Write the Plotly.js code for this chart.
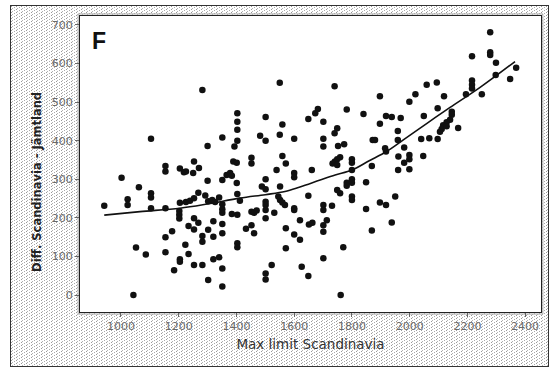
<!DOCTYPE html>
<html>
<head>
<meta charset="utf-8">
<script src="https://cdn.plot.ly/plotly-3.0.1.min.js"></script>
<style>
  html, body { margin:0; padding:0; background:#fff; }
  #wrap { position:relative; width:558px; height:369px; overflow:hidden; }
  #frame {
    position:absolute; left:10px; top:5px; width:537px; height:360px;
    border:1px solid #333;
    background-color:#fff;
    background-image:url("data:image/svg+xml,%3Csvg xmlns='http://www.w3.org/2000/svg' width='5' height='3'%3E%3Crect width='5' height='3' fill='%23ffffff'/%3E%3Crect x='0' y='0' width='1' height='1' fill='%23999'/%3E%3Crect x='3' y='1' width='1' height='1' fill='%23aaa'/%3E%3Crect x='1' y='2' width='1' height='1' fill='%23b4b4b4'/%3E%3C/svg%3E");
  }
  #chart { position:absolute; left:0; top:0; width:558px; height:369px; }
</style>
</head>
<body>
<div id="wrap">
  <div id="frame"></div>
  <div id="chart"></div>
</div>
<script>
// Scatter data: Max limit Scandinavia (x) vs Diff. Scandinavia - Jämtland (y)
const maxLimit = [
  1104,1282,1403,1403,1403,1403,1393,1351,1300,1501,1550,1559,1482,1501,1550,1600,1649,1673,1682,1701,1701,1701,
  2279,2279,2279,2216,2299,2369,2348,2298,2216,2216,2216,2195,2250,2094,2059,2119,2020,1999,1897,2097,
  2146,2146,2140,2128,2116,2111,2105,2128,2168,2049,2097,2068,2040,1959,1959,1897,1918,1938,1969,1840,1782,1740,
  1749,1740,1752,1773,1872,1880,1981,
  1253,1154,1154,1204,1218,1225,1250,1270,1002,1062,1104,1104,1023,1023,942,1104,1154,1204,1225,1239,1253,1268,
  1292,1302,1316,1326,1340,1300,1351,1366,1378,1384,1389,1401,1452,1452,1401,1403,1412,1351,1351,1351,1384,1403,
  1202,1202,1202,1253,1268,1320,1351,1351,1234,1253,1302,1177,1154,1282,1282,1320,1223,1234,1052,1086,1154,1204,
  1204,1184,1253,1282,1320,1340,1351,1302,1351,1043,1403,1403,1433,1452,1461,1452,1461,1470,1501,1501,1501,1501,
  1488,1501,1501,1551,1551,1559,1568,1545,1531,1600,1600,1539,1559,1571,1600,1600,1661,1649,1701,1701,1620,1651,
  1663,1701,1713,1701,1571,1600,1620,1571,1522,1501,1501,1626,1649,1701,
  1918,1915,1961,1999,1999,1981,2047,1960,1999,1869,1800,1800,1759,1749,1741,1733,1749,1800,1800,1800,1782,1782,
  1849,1749,1759,1800,1800,1731,1849,1897,1918,1950,1938,1869,1770,1761
];
const diffJamtland = [
  405,531,471,449,428,400,385,408,386,461,550,442,413,400,415,405,456,471,482,449,405,385,
  681,629,622,619,602,589,560,570,556,545,535,520,520,551,545,515,520,501,515,484,
  475,467,454,448,440,430,423,437,433,464,404,406,404,425,402,444,464,461,459,469,481,541,
  432,419,386,391,402,402,382,
  346,334,320,328,318,320,316,329,304,279,264,253,248,233,231,225,225,239,241,244,251,265,
  258,243,246,241,253,296,298,311,316,309,346,343,356,341,290,262,244,235,222,213,210,208,
  218,208,198,199,187,191,184,160,179,170,169,165,150,153,138,151,130,106,123,105,111,93,
  86,64,78,78,93,98,69,39,22,0,134,124,172,181,160,216,213,219,242,233,220,199,
  281,300,274,281,246,240,233,255,213,225,220,324,360,341,316,305,324,257,233,220,194,183,
  187,181,194,164,173,157,143,121,78,56,40,73,49,95,
  372,380,359,363,352,343,360,324,326,334,352,343,357,352,346,341,337,324,300,291,291,283,
  292,272,264,255,246,231,223,240,233,255,188,167,124,0
];
// Fitted smooth curve
const fitX = [942,1066,1204,1300,1412,1500,1568,1620,1690,1742,1800,1860,1920,1978,2060,2140,2244,2365];
const fitY = [207,216,225,236,251,260,268,280,298,311,324,348,372,402,445,486,538,605];

const xTicks = [1000,1200,1400,1600,1800,2000,2200,2400];
const yTicks = [0,100,200,300,400,500,600,700];

const traces = [
  {
    type:'scatter', mode:'markers', x:maxLimit, y:diffJamtland,
    marker:{size:6.5, color:'#111'}, hoverinfo:'x+y', showlegend:false
  },
  {
    type:'scatter', mode:'lines', x:fitX, y:fitY,
    line:{color:'#111', width:1.6, shape:'spline'}, showlegend:false
  }
];

const tickFont = {family:'DejaVu Sans, Verdana, sans-serif', size:11, color:'#6a6a6a'};
const layout = {
  width:558, height:369,
  margin:{l:80, r:17, t:16, b:57},
  paper_bgcolor:'rgba(0,0,0,0)',
  plot_bgcolor:'#ffffff',
  showlegend:false,
  xaxis:{
    range:[858,2455], tickvals:xTicks, ticktext:xTicks.map(String),
    showgrid:false, zeroline:false,
    showline:true, mirror:true, linecolor:'#222', linewidth:1,
    ticks:'outside', ticklen:4, tickcolor:'#666', tickfont:tickFont,
    title:{text:'Max limit Scandinavia', font:{family:'DejaVu Sans, Verdana, sans-serif', size:13.5, color:'#333'}, standoff:7},
    automargin:false
  },
  yaxis:{
    range:[-44,723], tickvals:yTicks, ticktext:yTicks.map(String),
    showgrid:false, zeroline:false,
    showline:true, mirror:true, linecolor:'#222', linewidth:1,
    ticks:'outside', ticklen:4, tickcolor:'#666', tickfont:tickFont,
    automargin:false
  },
  shapes:[
    {type:'rect', xref:'paper', yref:'paper', x0:-0.004, x1:1.004, y0:-0.007, y1:1.007,
     line:{color:'#aaa', width:1}, fillcolor:'rgba(0,0,0,0)', layer:'below'}
  ],
  annotations:[
    {text:'<b>F</b>', xref:'paper', yref:'paper', x:0.022, y:0.965, xanchor:'left', yanchor:'top',
     showarrow:false, font:{family:'Liberation Sans, Arial, sans-serif', size:23, color:'#111'}},
    {text:'<b>Diff. Scandinavia - Jämtland</b>', xref:'paper', yref:'paper', x:-0.093, y:0.44,
     xanchor:'center', yanchor:'middle', textangle:-90, showarrow:false,
     font:{family:'DejaVu Sans, Verdana, sans-serif', size:11.5, color:'#222'}}
  ]
};

Plotly.newPlot('chart', traces, layout, {displayModeBar:false, staticPlot:true});
</script>
</body>
</html>
